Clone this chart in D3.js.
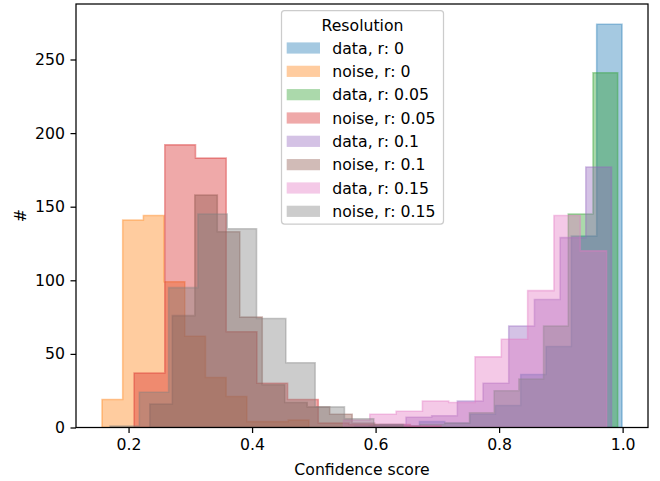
<!DOCTYPE html>
<html>
<head>
<meta charset="utf-8">
<script src="https://cdn.jsdelivr.net/npm/d3@7"></script>
<style>
  body { margin: 0; background: #fff; }
  text { font-family: "DejaVu Sans", sans-serif; fill: #000; }
</style>
</head>
<body>
<div id="main"></div>
<script>
// legend labels, drawn in this order
var labels = ["data, r: 0", "noise, r: 0", "data, r: 0.05", "noise, r: 0.05",
              "data, r: 0.1", "noise, r: 0.1", "data, r: 0.15", "noise, r: 0.15"];
var colors = ["#1f77b4", "#ff7f0e", "#2ca02c", "#d62728",
              "#9467bd", "#8c564b", "#e377c2", "#7f7f7f"];

// [first edge, last edge] of each histogram (10 equal bins)
var binRanges = [[0.589, 0.999], [0.157, 0.492], [0.592, 0.992], [0.209, 0.706],
                 [0.566, 0.982], [0.2345, 0.5985], [0.548, 0.974], [0.170, 0.6445]];

// counts per bin
var dataR0     = [1, 1, 4, 3, 9, 15, 36, 55, 130, 274];
var noiseR0    = [19, 141, 144, 99, 62, 34, 21, 4, 4, 5];
var dataR005   = [1, 1, 2, 3, 10, 25, 33, 69, 145, 241];
var noiseR005  = [37, 192, 183, 65, 30, 19, 3, 2, 2, 1];
var dataR01    = [1, 2, 7, 8, 18, 30, 69, 87, 129, 177];
var noiseR01   = [16, 76, 158, 133, 75, 29, 17, 14, 9, 3];
var dataR015   = [5, 9, 11, 18, 17, 48, 60, 93, 144, 120];
var noiseR015  = [1, 24, 95, 145, 135, 74, 44, 14, 6, 2];

var counts = [dataR0, noiseR0, dataR005, noiseR005, dataR01, noiseR01, dataR015, noiseR015];

var xTicks = [0.2, 0.4, 0.6, 0.8, 1.0];
var yTicks = [0, 50, 100, 150, 200, 250];

var width = 660, height = 481,
    plot = {left: 76, right: 648, top: 4, bottom: 427.5},
    fontSize = 15.7,
    tickLen = 5.5;

var svg = d3.select("#main").append("svg")
    .attr("width", width)
    .attr("height", height);

// x limits: data extent plus 5% margins, like matplotlib
var lo = d3.min(binRanges, function(r) { return r[0]; }),
    hi = d3.max(binRanges, function(r) { return r[1]; }),
    pad = (hi - lo) * 0.05;
var x = d3.scaleLinear().domain([lo - pad, hi + pad]).range([plot.left, plot.right]);
var yMax = d3.max(counts, function(c) { return d3.max(c); }) * 1.05;
var y = d3.scaleLinear().domain([0, yMax]).range([plot.bottom, plot.top]);

svg.append("clipPath").attr("id", "clip")
  .append("rect")
    .attr("x", plot.left).attr("y", plot.top)
    .attr("width", plot.right - plot.left).attr("height", plot.bottom - plot.top);

function stepPath(range, c) {
    var n = c.length, w = (range[1] - range[0]) / n;
    var pts = [[range[0], 0]];
    c.forEach(function(v, i) {
        pts.push([range[0] + i * w, v]);
        pts.push([range[0] + (i + 1) * w, v]);
    });
    pts.push([range[1], 0]);
    return "M" + pts.map(function(p) { return x(p[0]) + "," + y(p[1]); }).join("L") + "Z";
}

var hists = svg.append("g").attr("clip-path", "url(#clip)");
counts.forEach(function(c, i) {
    hists.append("path")
        .attr("d", stepPath(binRanges[i], c))
        .attr("fill", colors[i])
        .attr("fill-opacity", 0.4)
        .attr("stroke", colors[i])
        .attr("stroke-opacity", 0.4)
        .attr("stroke-width", 1.57)
        .attr("stroke-linejoin", "miter");
});

// axes
var xAxis = svg.append("g")
    .attr("transform", "translate(0," + plot.bottom + ")")
    .call(d3.axisBottom(x).tickValues(xTicks).tickFormat(d3.format(".1f"))
        .tickSize(tickLen).tickPadding(5.5));
var yAxis = svg.append("g")
    .attr("transform", "translate(" + plot.left + ",0)")
    .call(d3.axisLeft(y).tickValues(yTicks).tickSize(tickLen).tickPadding(5.5));

[xAxis, yAxis].forEach(function(a) {
    a.select(".domain").remove();
    a.selectAll(".tick line").attr("stroke", "#000").attr("stroke-width", 1.25);
    a.selectAll(".tick text")
        .style("font-family", "DejaVu Sans")
        .style("font-size", fontSize + "px")
        .attr("fill", "#000");
});
xAxis.selectAll(".tick text").attr("dy", "0.74em");

// frame
svg.append("rect")
    .attr("x", plot.left).attr("y", plot.top)
    .attr("width", plot.right - plot.left).attr("height", plot.bottom - plot.top)
    .attr("fill", "none")
    .attr("stroke", "#000")
    .attr("stroke-width", 1.25);

svg.append("text")
    .attr("x", (plot.left + plot.right) / 2)
    .attr("y", 475)
    .attr("text-anchor", "middle")
    .style("font-size", fontSize + "px")
    .text("Confidence score");

svg.append("text")
    .attr("transform", "translate(25.5," + (plot.top + plot.bottom) / 2 + ") rotate(-90)")
    .attr("text-anchor", "middle")
    .style("font-size", fontSize + "px")
    .text("#");

// legend
var legend = svg.append("g").attr("transform", "translate(281.5,10.5)");
legend.append("rect")
    .attr("width", 162).attr("height", 213.5)
    .attr("rx", 3).attr("ry", 3)
    .attr("fill", "#fff").attr("fill-opacity", 0.8)
    .attr("stroke", "#cccccc").attr("stroke-width", 1.25);
legend.append("text")
    .attr("x", 81).attr("y", 20.5)
    .attr("text-anchor", "middle")
    .style("font-size", fontSize + "px")
    .text("Resolution");

var rows = legend.selectAll(".row")
    .data(labels)
    .enter().append("g")
    .attr("class", "row")
    .attr("transform", function(d, i) { return "translate(0," + (37.5 + i * 23.33) + ")"; });

rows.append("rect")
    .attr("x", 5.2).attr("y", -5.6)
    .attr("width", 33.3).attr("height", 11.2)
    .attr("fill", function(d, i) { return colors[i]; })
    .attr("fill-opacity", 0.4);

rows.append("text")
    .attr("x", 50.8).attr("y", 5.6)
    .style("font-size", fontSize + "px")
    .text(function(d) { return d; });
</script>
</body>
</html>
